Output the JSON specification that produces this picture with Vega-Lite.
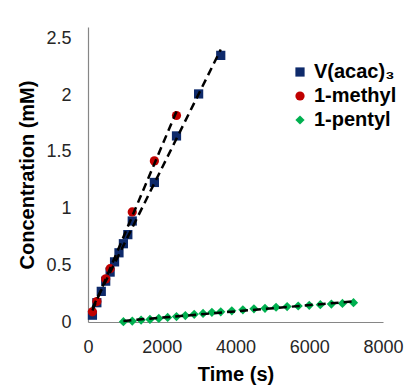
{
  "$schema": "https://vega.github.io/schema/vega-lite/v6.json",
  "width": 295,
  "height": 295,
  "autosize": "none",
  "padding": {"left": 88, "top": 27, "right": 25, "bottom": 64},
  "background": "white",
  "config": {
    "view": {"stroke": null},
    "font": "Liberation Sans",
    "axis": {"grid": false, "ticks": false, "domainColor": "#868686", "domainWidth": 1.2, "labelColor": "#262626", "labelFont": "Liberation Sans", "labelFontSize": 18, "titleFont": "Liberation Sans", "titleFontSize": 20, "titleFontWeight": "bold", "titleColor": "#000000", "labelFlush": false}
  },
  "data": {"values": [
    {"t": 120, "c": 0.06, "series": "V(acac)₃"},
    {"t": 240, "c": 0.17, "series": "V(acac)₃"},
    {"t": 360, "c": 0.27, "series": "V(acac)₃"},
    {"t": 480, "c": 0.36, "series": "V(acac)₃"},
    {"t": 600, "c": 0.44, "series": "V(acac)₃"},
    {"t": 720, "c": 0.53, "series": "V(acac)₃"},
    {"t": 840, "c": 0.61, "series": "V(acac)₃"},
    {"t": 960, "c": 0.69, "series": "V(acac)₃"},
    {"t": 1080, "c": 0.77, "series": "V(acac)₃"},
    {"t": 1200, "c": 0.89, "series": "V(acac)₃"},
    {"t": 1800, "c": 1.23, "series": "V(acac)₃"},
    {"t": 2400, "c": 1.64, "series": "V(acac)₃"},
    {"t": 3000, "c": 2.01, "series": "V(acac)₃"},
    {"t": 3600, "c": 2.35, "series": "V(acac)₃"},
    {"t": 120, "c": 0.09, "series": "1-methyl"},
    {"t": 240, "c": 0.18, "series": "1-methyl"},
    {"t": 480, "c": 0.38, "series": "1-methyl"},
    {"t": 600, "c": 0.47, "series": "1-methyl"},
    {"t": 1200, "c": 0.97, "series": "1-methyl"},
    {"t": 1800, "c": 1.42, "series": "1-methyl"},
    {"t": 2400, "c": 1.82, "series": "1-methyl"},
    {"t": 960, "c": 0.003, "series": "1-pentyl"},
    {"t": 1200, "c": 0.008, "series": "1-pentyl"},
    {"t": 1440, "c": 0.017, "series": "1-pentyl"},
    {"t": 1680, "c": 0.023, "series": "1-pentyl"},
    {"t": 1920, "c": 0.031, "series": "1-pentyl"},
    {"t": 2160, "c": 0.040, "series": "1-pentyl"},
    {"t": 2400, "c": 0.048, "series": "1-pentyl"},
    {"t": 2640, "c": 0.057, "series": "1-pentyl"},
    {"t": 2880, "c": 0.068, "series": "1-pentyl"},
    {"t": 3120, "c": 0.076, "series": "1-pentyl"},
    {"t": 3360, "c": 0.085, "series": "1-pentyl"},
    {"t": 3600, "c": 0.090, "series": "1-pentyl"},
    {"t": 3900, "c": 0.099, "series": "1-pentyl"},
    {"t": 4200, "c": 0.107, "series": "1-pentyl"},
    {"t": 4500, "c": 0.116, "series": "1-pentyl"},
    {"t": 4800, "c": 0.121, "series": "1-pentyl"},
    {"t": 5100, "c": 0.130, "series": "1-pentyl"},
    {"t": 5400, "c": 0.136, "series": "1-pentyl"},
    {"t": 5700, "c": 0.141, "series": "1-pentyl"},
    {"t": 6000, "c": 0.147, "series": "1-pentyl"},
    {"t": 6300, "c": 0.153, "series": "1-pentyl"},
    {"t": 6600, "c": 0.158, "series": "1-pentyl"},
    {"t": 6900, "c": 0.164, "series": "1-pentyl"},
    {"t": 7200, "c": 0.170, "series": "1-pentyl"}
  ]},
  "layer": [
    {
      "mark": {"type": "point", "filled": true, "opacity": 1},
      "encoding": {
        "x": {"field": "t", "type": "quantitative", "scale": {"domain": [0, 8000]}, "axis": {"values": [0, 2000, 4000, 6000, 8000], "format": "d", "labelPadding": 16, "title": "Time (s)", "titlePadding": 8}},
        "y": {"field": "c", "type": "quantitative", "scale": {"domain": [0, 2.5]}, "axis": {"values": [0, 0.5, 1, 1.5, 2, 2.5], "format": "~g", "labelPadding": 17, "title": "Concentration (mM)", "titlePadding": 8}},
        "color": {"field": "series", "type": "nominal", "scale": {"domain": ["V(acac)₃", "1-methyl", "1-pentyl"], "range": ["#0E2A6B", "#C00000", "#00B050"]}, "legend": {"orient": "none", "legendX": 202, "legendY": 35, "title": null, "padding": 0, "labelFontSize": 20, "labelFontWeight": "bold", "labelColor": "#000000", "labelFont": "Liberation Sans", "symbolSize": 60, "rowPadding": 4, "labelOffset": 4}},
        "shape": {"field": "series", "type": "nominal", "scale": {"domain": ["V(acac)₃", "1-methyl", "1-pentyl"], "range": ["square", "circle", "diamond"]}, "legend": null},
        "size": {"field": "series", "type": "nominal", "scale": {"domain": ["V(acac)₃", "1-methyl", "1-pentyl"], "range": [85, 85, 160]}, "legend": null}
      }
    },
    {
      "transform": [{"regression": "c", "on": "t", "groupby": ["series"]}],
      "mark": {"type": "line", "color": "#000000", "strokeDash": [8, 5], "strokeWidth": 2.5},
      "encoding": {
        "x": {"field": "t", "type": "quantitative"},
        "y": {"field": "c", "type": "quantitative"},
        "detail": {"field": "series", "type": "nominal"}
      }
    }
  ]
}
